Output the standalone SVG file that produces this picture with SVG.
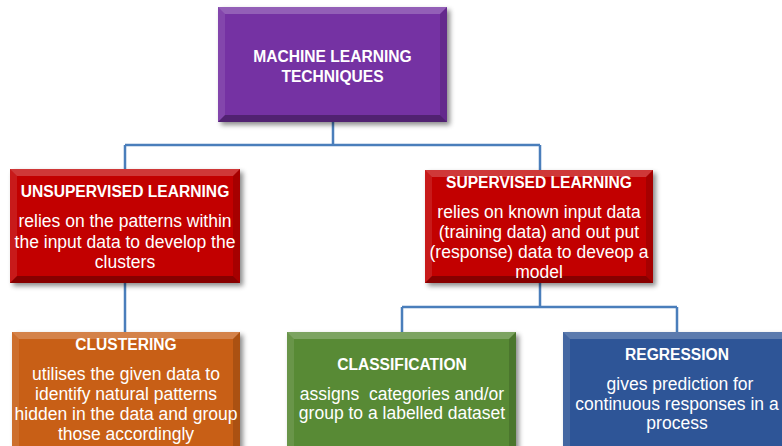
<svg xmlns="http://www.w3.org/2000/svg" width="782" height="446" viewBox="0 0 782 446">
<style>
.t{font-family:"Liberation Sans",Arial,sans-serif;font-weight:bold;font-size:15.6px;fill:#fff;text-anchor:middle}
.b{font-family:"Liberation Sans",Arial,sans-serif;font-size:17.5px;fill:#fff;text-anchor:middle}
.hl{fill:#fff;fill-opacity:.22}
.hs{fill:#fff;fill-opacity:.1}
.dr{fill:#000;fill-opacity:.14}
.db{fill:#000;fill-opacity:.3}
.con{fill:none;stroke:#4A7EBB;stroke-width:2.5}
</style>
<defs>
<filter id="sh" x="-10%" y="-10%" width="130%" height="130%">
<feDropShadow dx="3" dy="3" stdDeviation="2.5" flood-color="#000" flood-opacity="0.45"/>
</filter>
</defs>
<rect width="782" height="446" fill="#fff"/>
<g id="connectors" class="con">
<path d="M333,122V145M125,145H540M125,145V169M540,145V170"/>
<path d="M125,283V332"/>
<path d="M540,283V307M402,307H677M402,307V332M677,307V332"/>
</g>
<g id="n-ml">
<rect x="218" y="7" width="229" height="115" fill="#7432A3" filter="url(#sh)"/>
<polygon class="hl" points="218,7 447,7 440,14 225,14"/>
<polygon class="hs" points="218,7 225,14 225,115 218,122"/>
<polygon class="dr" points="447,7 447,122 440,115 440,14"/>
<polygon class="db" points="218,122 225,115 440,115 447,122"/>
<text class="t" x="332.5" y="62">MACHINE LEARNING</text>
<text class="t" x="332.5" y="82">TECHNIQUES</text>
</g>
<g id="n-unsup">
<rect x="10" y="169" width="230" height="114" fill="#C20404" filter="url(#sh)"/>
<polygon class="hl" points="10,169 240,169 233,176 17,176"/>
<polygon class="hs" points="10,169 17,176 17,276 10,283"/>
<polygon class="dr" points="240,169 240,283 233,276 233,176"/>
<polygon class="db" points="10,283 17,276 233,276 240,283"/>
<text class="t" x="125" y="197">UNSUPERVISED LEARNING</text>
<text class="b" x="125" y="227">relies on the patterns within</text>
<text class="b" x="125" y="248">the input data to develop the</text>
<text class="b" x="125" y="268">clusters</text>
</g>
<g id="n-sup">
<rect x="425" y="170" width="228" height="113" fill="#C20404" filter="url(#sh)"/>
<polygon class="hl" points="425,170 653,170 646,177 432,177"/>
<polygon class="hs" points="425,170 432,177 432,276 425,283"/>
<polygon class="dr" points="653,170 653,283 646,276 646,177"/>
<polygon class="db" points="425,283 432,276 646,276 653,283"/>
<text class="t" x="539" y="188">SUPERVISED LEARNING</text>
<text class="b" x="539" y="218">relies on known input data</text>
<text class="b" x="539" y="238">(training data) and out put</text>
<text class="b" x="539" y="258">(response) data to deveop a</text>
<text class="b" x="539" y="278">model</text>
</g>
<g id="n-clustering">
<rect x="12" y="332" width="228" height="125" fill="#C85F18" filter="url(#sh)"/>
<polygon class="hl" points="12,332 240,332 233,339 19,339"/>
<polygon class="hs" points="12,332 19,339 19,457 12,457"/>
<polygon class="dr" points="240,332 240,457 233,457 233,339"/>
<text class="t" x="126" y="350">CLUSTERING</text>
<text class="b" x="126" y="380">utilises the given data to</text>
<text class="b" x="126" y="400">identify natural patterns</text>
<text class="b" x="126" y="420">hidden in the data and group</text>
<text class="b" x="126" y="440">those accordingly</text>
</g>
<g id="n-classification">
<rect x="287" y="332" width="229" height="125" fill="#588A36" filter="url(#sh)"/>
<polygon class="hl" points="287,332 516,332 509,339 294,339"/>
<polygon class="hs" points="287,332 294,339 294,457 287,457"/>
<polygon class="dr" points="516,332 516,457 509,457 509,339"/>
<text class="t" x="402" y="370">CLASSIFICATION</text>
<text class="b" x="402" y="400" xml:space="preserve">assigns  categories and/or</text>
<text class="b" x="402" y="419">group to a labelled dataset</text>
</g>
<g id="n-regression">
<rect x="563" y="332" width="230" height="125" fill="#2F5597" filter="url(#sh)"/>
<polygon class="hl" points="563,332 793,332 786,339 570,339"/>
<polygon class="hs" points="563,332 570,339 570,457 563,457"/>
<text class="t" x="677" y="360">REGRESSION</text>
<text class="b" x="680" y="390">gives prediction for</text>
<text class="b" x="677" y="410">continuous responses in a</text>
<text class="b" x="677" y="429">process</text>
</g>
</svg>
